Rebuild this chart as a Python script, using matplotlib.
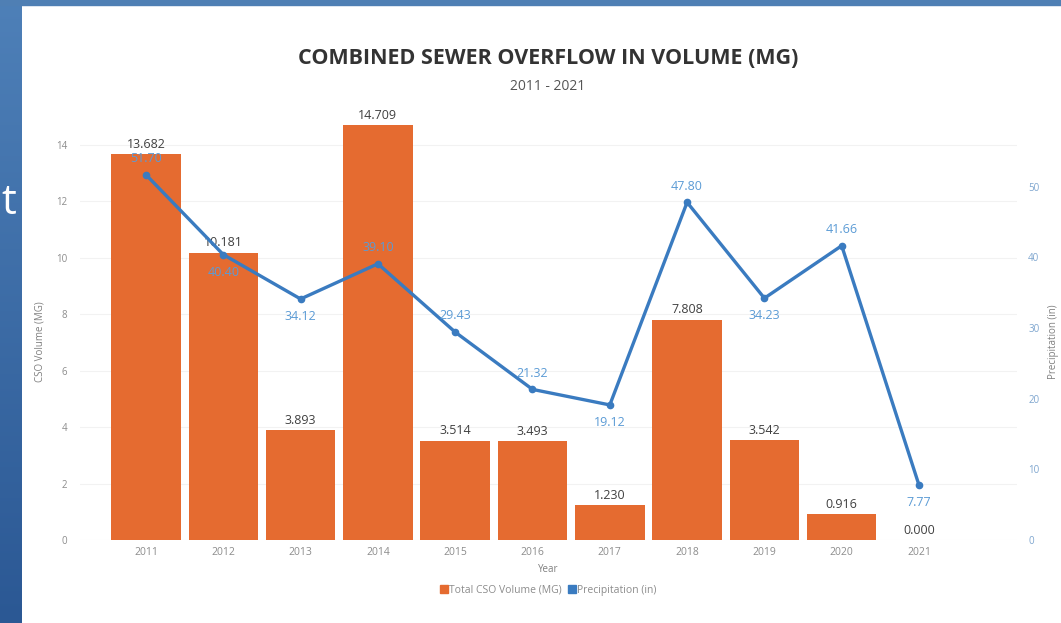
import numpy as np
import matplotlib.pyplot as plt
from matplotlib.patches import Rectangle
from matplotlib.lines import Line2D

# Data
years = ['2011', '2012', '2013', '2014', '2015', '2016', '2017', '2018', '2019', '2020', '2021']
cso_volume = [13.682, 10.181, 3.893, 14.709, 3.514, 3.493, 1.230, 7.808, 3.542, 0.916, 0.000]
precip = [51.70, 40.40, 34.12, 39.10, 29.43, 21.32, 19.12, 47.80, 34.23, 41.66, 7.77]
left_ticks = [0, 2, 4, 6, 8, 10, 12, 14]
right_ticks = [0, 10, 20, 30, 40, 50]

# where each precipitation label sits relative to its point
precip_label_side = ['above', 'below', 'below', 'above', 'above', 'above',
                     'below', 'above', 'below', 'above', 'below']

bar_color = '#E56B30'
line_color = '#3A7BC0'
label_blue = '#5B9BD5'
tick_gray = '#8C8C8C'

plt.rcParams['font.family'] = ['Open Sans', 'DejaVu Sans']

W, H = 1061, 623
fig = plt.figure(figsize=(W / 100, H / 100), dpi=100)

# slide background: blue strip at the left and top
bg = fig.add_axes([0, 0, 1, 1], zorder=-10)
grad = np.linspace(0, 1, 256).reshape(-1, 1)
bg.imshow(grad, extent=[0, 22, H, 0], cmap=plt.matplotlib.colors.LinearSegmentedColormap.from_list(
    'slide', ['#4E80B8', '#2B5894']), aspect='auto')
bg.add_patch(Rectangle((0, 0), W, 5, color='#4F7FB4'))
bg.set_xlim(0, W)
bg.set_ylim(H, 0)
bg.axis('off')
fig.text(1 / W, 1 - 214 / H, 't', color='white', fontsize=30, ha='left', va='baseline')

ax = fig.add_axes([80 / W, (H - 540) / H, (1017 - 80) / W, (540 - 143) / H])
x = np.arange(len(years))
step = 77.3
ax.set_xlim((80 - 146) / step, (1017 - 146) / step)
ax.set_ylim(0, 14.07)

bars = ax.bar(x, cso_volume, width=0.9, color=bar_color, zorder=2, clip_on=False)
for xi, v in zip(x, cso_volume):
    ax.text(xi, v + 0.12, f'{v:.3f}', ha='center', va='bottom', fontsize=9,
            color='#404040', zorder=5)

ax.set_yticks(left_ticks)
ax.tick_params(axis='y', length=0, pad=9, labelsize=7, labelcolor=tick_gray)
ax.set_xticks(x)
ax.set_xticklabels(years)
ax.tick_params(axis='x', length=0, pad=5, labelsize=7.5, labelcolor=tick_gray)
ax.grid(axis='y', color='#F2F2F2', linewidth=0.8, zorder=0)
for s in ax.spines.values():
    s.set_visible(False)
ax.set_xlabel('Year', fontsize=7, color='#7F7F7F', labelpad=4)
ax.set_ylabel('CSO Volume (MG)', fontsize=7, color='#7F7F7F', labelpad=8)

ax2 = ax.twinx()
ax2.set_ylim(0, 56.2)
ax2.plot(x, precip, color=line_color, linewidth=2.4, marker='o', markersize=4.5, zorder=4)
for xi, p, side in zip(x, precip, precip_label_side):
    dy = 7 if side == 'above' else -8
    ax2.annotate(f'{p:.2f}', (xi, p), xytext=(0, dy), textcoords='offset points',
                 ha='center', va='bottom' if side == 'above' else 'top',
                 fontsize=9, color=label_blue, zorder=6)
ax2.set_yticks(right_ticks)
ax2.tick_params(axis='y', length=0, pad=8, labelsize=7, labelcolor='#7FA6CF')
for s in ax2.spines.values():
    s.set_visible(False)
ax2.set_ylabel('Precipitation (in)', fontsize=7, color='#7F7F7F', labelpad=6)

fig.text(548 / W, 1 - 58 / H, 'COMBINED SEWER OVERFLOW IN VOLUME (MG)', ha='center', va='center',
         fontsize=15.5, fontweight='bold', color='#333333')
fig.text(548 / W, 1 - 86 / H, '2011 - 2021', ha='center', va='center', fontsize=10, color='#555555')

handles = [Line2D([], [], marker='s', linestyle='none', color=bar_color, markersize=6),
           Line2D([], [], marker='s', linestyle='none', color=line_color, markersize=6)]
fig.legend(handles, ['Total CSO Volume (MG)', 'Precipitation (in)'], loc='center',
           bbox_to_anchor=(548 / W, 1 - 590 / H), ncol=2, frameon=False, fontsize=7.5,
           labelcolor='#8C8C8C', handletextpad=0.1, columnspacing=0.6, handlelength=0.8)

fig.savefig('out.png', dpi=100)
